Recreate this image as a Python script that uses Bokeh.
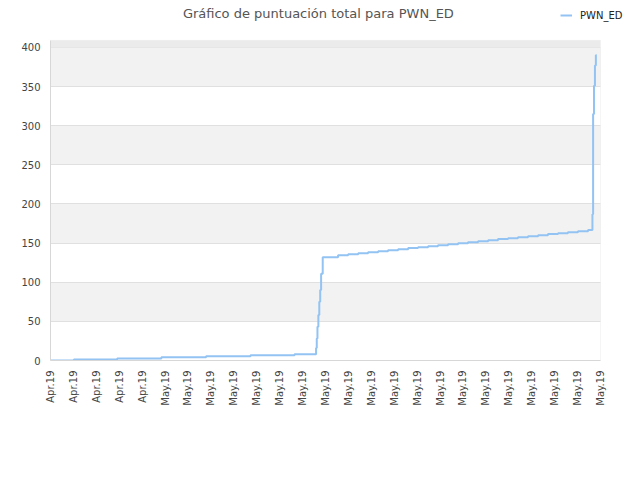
from bokeh.plotting import figure
from bokeh.models import Range1d, FixedTicker, BoxAnnotation, Label
from bokeh.embed import file_html
from bokeh.resources import INLINE
import math

title_text = "Gráfico de puntuación total para PWN_ED"
series_name = "PWN_ED"

tick_labels = ["Apr.19", "Apr.19", "Apr.19", "Apr.19", "Apr.19",
               "May.19", "May.19", "May.19", "May.19", "May.19",
               "May.19", "May.19", "May.19", "May.19", "May.19",
               "May.19", "May.19", "May.19", "May.19", "May.19",
               "May.19", "May.19", "May.19", "May.19", "May.19"]

# x positions in tick-index units
x_vals = [0.0, 1.02, 2.91, 4.84, 6.79, 8.73, 10.65,
          11.59, 11.62, 11.65, 11.69, 11.73, 11.77, 11.81, 11.88,
          12.55, 12.99, 13.43, 13.86, 14.30, 14.73, 15.17, 15.61, 16.04, 16.48,
          16.91, 17.35, 17.79, 18.22, 18.66, 19.10, 19.53, 19.97, 20.40, 20.84,
          21.28, 21.71, 22.15, 22.58, 23.02, 23.46,
          23.65, 23.68, 23.72, 23.76, 23.80, 23.84]
y_vals = [0, 1.3, 2.6, 4.2, 5.5, 6.8, 8.1,
          16, 28, 43, 58, 75, 90, 111, 132,
          134.6, 135.9, 137.2, 138.4, 139.7, 141.0, 142.3, 143.6, 144.8, 146.1,
          147.4, 148.7, 149.9, 151.2, 152.5, 153.8, 155.1, 156.3, 157.6, 158.9,
          160.2, 161.5, 162.7, 164.0, 165.3, 166.6,
          187, 315, 351, 377, 390, 390]

y_ticks = [0, 50, 100, 150, 200, 250, 300, 350, 400]
x_max = 24            # right edge of the plotting box
x_view_max = 25.05    # extra room at the right for the legend
y_axis_max = 409      # top of the plotting box
y_view_max = 460      # extra room above the box for title and legend

p = figure(width=624, height=464, output_backend="svg", toolbar_location=None,
           x_range=Range1d(0, x_view_max), y_range=Range1d(0, y_view_max),
           min_border_left=50, min_border_right=0, min_border_top=0,
           min_border_bottom=104)

p.background_fill_color = "white"
p.border_fill_color = "white"
p.outline_line_color = None
p.title.visible = False

# grids
p.xgrid.visible = False
p.ygrid.ticker = FixedTicker(ticks=y_ticks)
p.ygrid.grid_line_color = "#e0e0e0"
p.ygrid.band_fill_color = "#f2f2f2"
p.ygrid.band_fill_alpha = 1.0
p.add_layout(BoxAnnotation(bottom=400, top=y_axis_max, right=x_max,
                           fill_color="#ebebeb", fill_alpha=1.0,
                           line_color=None, level="underlay"))
# mask the grid outside the plotting box
p.add_layout(BoxAnnotation(left=x_max, bottom=0, top=y_axis_max,
                           fill_color="white", fill_alpha=1.0, line_color=None))
# plotting box border (top and right)
p.add_layout(BoxAnnotation(left=0, right=x_max, bottom=0, top=y_axis_max,
                           fill_alpha=0, line_color="#d9d9d9", line_width=1))

# axes
p.yaxis.ticker = FixedTicker(ticks=y_ticks)
p.yaxis.bounds = (0, y_axis_max)
p.xaxis.bounds = (0, x_max)
p.xaxis.ticker = FixedTicker(ticks=list(range(len(tick_labels))))
p.xaxis.major_label_overrides = {i: lab for i, lab in enumerate(tick_labels)}
p.xaxis.major_label_orientation = math.pi / 2
for ax in (p.xaxis, p.yaxis):
    ax.axis_line_color = "#d6d6d6"
    ax.major_tick_line_color = None
    ax.minor_tick_line_color = None
    ax.major_label_text_font = "DejaVu Sans"
    ax.major_label_text_font_size = "10px"
    ax.major_label_text_color = "#444444"
p.yaxis.major_label_standoff = 4
p.xaxis.major_label_standoff = 4

p.step(x_vals, y_vals, mode="after", line_color="#92c3f3", line_width=2,
       legend_label=series_name)

# title
p.add_layout(Label(x=11.69, y=443.5, text=title_text, text_align="center",
                   text_baseline="middle", text_font="DejaVu Sans",
                   text_font_size="13px", text_color="#555555"))

lg = p.legend[0]
lg.location = (510, 339)
lg.border_line_color = None
lg.background_fill_alpha = 0
lg.padding = 0
lg.margin = 0
lg.spacing = 0
lg.glyph_width = 12
lg.glyph_height = 12
lg.label_standoff = 8
lg.label_text_font = "DejaVu Sans"
lg.label_text_font_size = "10px"
lg.label_text_color = "#222222"

open("out.html", "w").write(file_html(p, INLINE))
